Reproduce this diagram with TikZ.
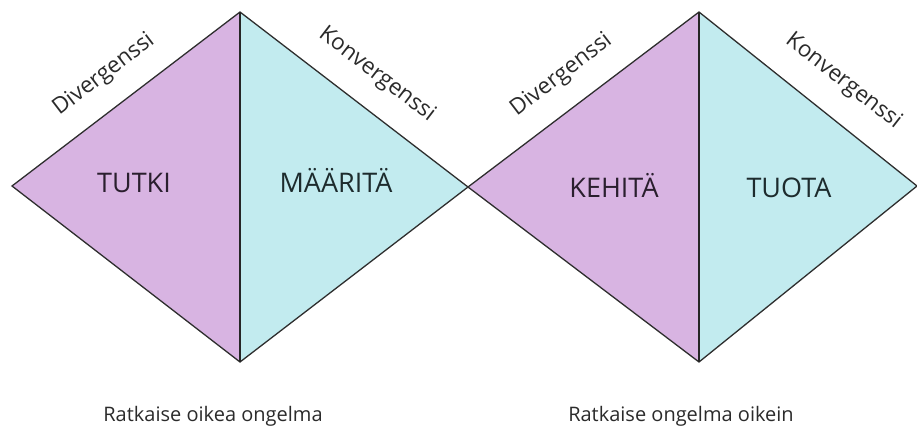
\documentclass[tikz,border=0pt]{standalone}
\usepackage{fontspec}
\setmainfont{Open Sans}
\usetikzlibrary{calc}

\definecolor{lilac}{HTML}{D8B4E2}
\definecolor{aqua}{HTML}{C2EBEF}
\definecolor{edgegray}{HTML}{2E2E2E}
\definecolor{inklilac}{HTML}{2A1F2E}
\definecolor{inkaqua}{HTML}{1D2B2D}
\definecolor{inkplain}{HTML}{2B2B2B}

\tikzset{
  outline/.style={draw=edgegray, line width=1.3pt, line join=miter},
  spine/.style={draw=black!85, line width=2pt},
  phase/.style={inner sep=0pt, anchor=base, font=\fontsize{27}{27}\selectfont},
  mode/.style={inner sep=0pt, anchor=base, text=inkplain, font=\fontsize{22.5}{22.5}\selectfont},
  caption/.style={inner sep=0pt, anchor=base, text=inkplain, font=\fontsize{20}{20}\selectfont}
}

\begin{document}
\begin{tikzpicture}[x=1pt, y=-1pt]
  \useasboundingbox (0,0) rectangle (917,431);

  % corner points of the two diamonds
  \coordinate (L1) at (12,186);
  \coordinate (T1) at (240,12);
  \coordinate (B1) at (240,362);
  \coordinate (M)  at (468,187);
  \coordinate (T2) at (699,12);
  \coordinate (B2) at (699,362);
  \coordinate (R2) at (917,186);

  % first diamond
  \fill[lilac] (L1) -- (T1) -- (B1) -- cycle;
  \fill[aqua]  (T1) -- (M) -- (B1) -- cycle;
  \path[outline] (L1) -- (T1) -- (M) -- (B1) -- cycle;
  \path[spine] (T1) -- (B1);

  % second diamond
  \fill[lilac] (M) -- (T2) -- (B2) -- cycle;
  \fill[aqua]  (T2) -- (R2) -- (B2) -- cycle;
  \path[outline] (M) -- (T2) -- (R2) -- (B2) -- cycle;
  \path[spine] (T2) -- (B2);

  % phase names
  \node[phase, text=inklilac] (tutki)   at (134,192) {TUTKI};
  \node[phase, text=inkaqua]  (maarita) at (336,192) {MÄÄRITÄ};
  \node[phase, text=inklilac] (kehita)  at (614,197) {KEHITÄ};
  \node[phase, text=inkaqua]  (tuota)   at (789,197) {TUOTA};

  % divergence / convergence along the upper edges
  \node[mode, rotate=37.4]  (div1) at ($($(L1)!0.49!(T1)$)!27pt!90:(T1)$) {Divergenssi};
  \node[mode, rotate=-37.5] (con1) at ($($(T1)!0.51!(M)$)!28pt!90:(M)$) {Konvergenssi};
  \node[mode, rotate=37.4]  (div2) at ($($(M)!0.49!(T2)$)!27pt!90:(T2)$) {Divergenssi};
  \node[mode, rotate=-38]   (con2) at ($($(T2)!0.56!(R2)$)!30pt!90:(R2)$) {Konvergenssi};

  % captions
  \node[caption] (cap1) at (213,421) {Ratkaise oikea ongelma};
  \node[caption] (cap2) at (681,421) {Ratkaise ongelma oikein};
\end{tikzpicture}
\end{document}
